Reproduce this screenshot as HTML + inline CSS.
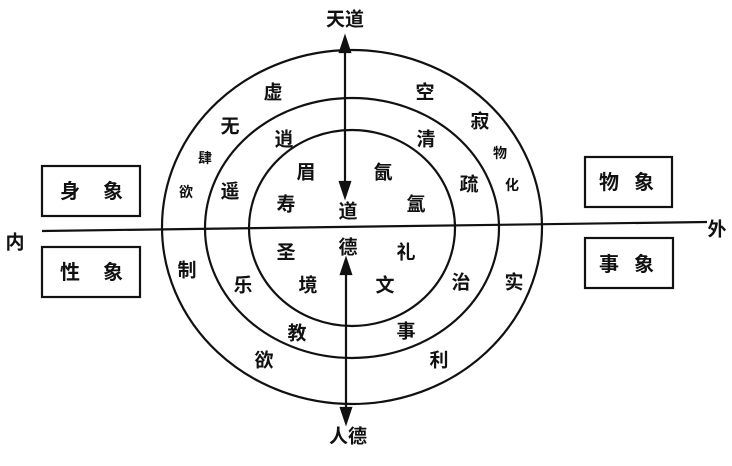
<!DOCTYPE html>
<html><head><meta charset="utf-8"><style>
html,body{margin:0;padding:0;background:#fff;}
svg{display:block;}
text{font-family:"Liberation Sans","Noto Sans CJK SC",sans-serif;font-weight:bold;fill:#111;text-anchor:middle;dominant-baseline:central;}
</style></head><body>
<svg width="732" height="466" viewBox="0 0 732 466" xmlns="http://www.w3.org/2000/svg">
<defs><marker id="a" markerWidth="10" markerHeight="14" refX="5" refY="13" orient="auto-start-reverse" markerUnits="userSpaceOnUse"><path d="M0,14 L5,0 L10,14 Z" fill="#111"/></marker></defs>
<g fill="none" stroke="#111" stroke-width="2.2">
<ellipse cx="352" cy="227" rx="190" ry="177"/>
<ellipse cx="352" cy="228" rx="147" ry="130"/>
<ellipse cx="352" cy="228" rx="103" ry="98"/>
<line x1="42" y1="231" x2="707" y2="222"/>
<rect x="42" y="166" width="98" height="50"/>
<rect x="42" y="247" width="98" height="50"/>
<rect x="585" y="157" width="87" height="50"/>
<rect x="585" y="238" width="88" height="50"/>
</g>
<g stroke="#111" stroke-width="2.2">
<line x1="345" y1="52" x2="345" y2="182"/>
<path d="M340,52 L345,37 L350,52 Z" fill="#111"/>
<path d="M340,182 L345,197 L350,182 Z" fill="#111"/>
<line x1="346" y1="274" x2="346" y2="408"/>
<path d="M341,274 L346,259 L351,274 Z" fill="#111"/>
<path d="M341,408 L346,423 L351,408 Z" fill="#111"/>
</g>
<g font-size="19">
<text x="345" y="20">天道</text>
<text x="348" y="437">人德</text>
<text x="15" y="243">内</text>
<text x="717" y="230">外</text>
<text x="273" y="93">虚</text>
<text x="425" y="93">空</text>
<text x="230" y="127">无</text>
<text x="480" y="122">寂</text>
<text x="284" y="140">逍</text>
<text x="426" y="140">清</text>
<text x="306" y="173">眉</text>
<text x="383" y="173">氤</text>
<text x="230" y="192">遥</text>
<text x="469" y="185">疏</text>
<text x="286" y="205">寿</text>
<text x="348" y="212">道</text>
<text x="416" y="205">氲</text>
<text x="348" y="248">德</text>
<text x="286" y="253">圣</text>
<text x="406" y="253">礼</text>
<text x="187" y="271">制</text>
<text x="243" y="286">乐</text>
<text x="308" y="286">境</text>
<text x="385" y="286">文</text>
<text x="461" y="283">治</text>
<text x="514" y="283">实</text>
<text x="297" y="334">教</text>
<text x="406" y="332">事</text>
<text x="264" y="361">欲</text>
<text x="439" y="361">利</text>
</g>
<g font-size="14">
<text x="205" y="158">肆</text>
<text x="500" y="153">物</text>
<text x="186" y="192">欲</text>
<text x="512" y="185">化</text>
</g>
<g font-size="20">
<text x="70" y="192">身</text><text x="113" y="192">象</text>
<text x="70" y="273">性</text><text x="113" y="273">象</text>
<text x="609" y="183">物</text><text x="644" y="183">象</text>
<text x="609" y="265">事</text><text x="644" y="265">象</text>
</g>
</svg>
</body></html>
